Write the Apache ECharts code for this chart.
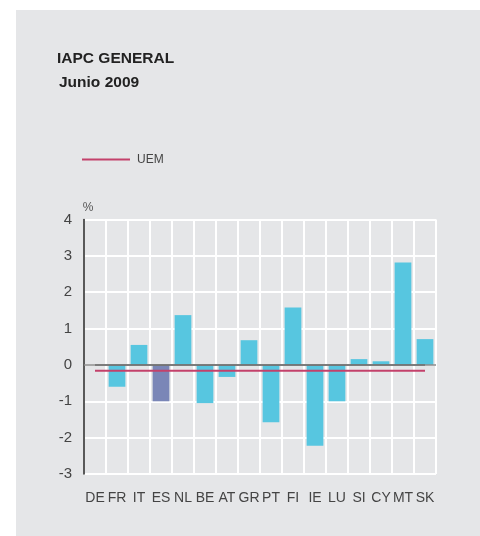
<!DOCTYPE html>
<html>
<head>
<meta charset="utf-8">
<script src="https://cdn.jsdelivr.net/npm/echarts@6/dist/echarts.min.js"></script>
<style>
  html, body { margin: 0; padding: 0; background: #fff; }
  .panel { position: absolute; left: 16px; top: 10px; width: 464px; height: 526px; background: #e5e6e8; }
  #chart { position: absolute; left: 0; top: 0; width: 480px; height: 536px; }
</style>
</head>
<body>
<div class="panel"></div>
<div id="chart"></div>
<script>
// 国别（欧元区成员）
const paises = ['DE', 'FR', 'IT', 'ES', 'NL', 'BE', 'AT', 'GR', 'PT', 'FI', 'IE', 'LU', 'SI', 'CY', 'MT', 'SK']
// IAPC junio 2009, %
const iapc = [0, -0.6, 0.55, -1.0, 1.37, -1.05, -0.33, 0.68, -1.58, 1.58, -2.22, -1.0, 0.16, 0.1, 2.82, 0.71]
// media UEM
const uem = [-0.16, -0.16, -0.16, -0.16, -0.16, -0.16, -0.16, -0.16, -0.16, -0.16, -0.16, -0.16, -0.16, -0.16, -0.16, -0.16]
// línea de cero
const cero = [0, 0, 0, 0, 0, 0, 0, 0, 0, 0, 0, 0, 0, 0, 0, 0]
const yTicks = [-3, -2, -1, 0, 1, 2, 3, 4]

const font = '"Liberation Sans", Arial, sans-serif'
const chart = echarts.init(document.getElementById('chart'))

const option = {
  backgroundColor: 'transparent',
  animation: false,
  title: [
    {
      text: 'IAPC GENERAL',
      left: 57,
      top: 51,
      padding: 0,
      textStyle: { fontFamily: font, fontSize: 15.5, fontWeight: 'bold', color: '#222' },
    },
    {
      text: 'Junio 2009',
      left: 59,
      top: 75,
      padding: 0,
      textStyle: { fontFamily: font, fontSize: 15.5, fontWeight: 'bold', color: '#222' },
    },
  ],
  legend: {
    data: ['UEM'],
    left: 82,
    top: 153.5,
    padding: 0,
    icon: 'rect',
    itemWidth: 48,
    itemHeight: 2,
    itemGap: 7,
    textStyle: { fontFamily: font, fontSize: 12, color: '#444', padding: [0, 0, 0, 2] },
  },
  grid: { left: 84, right: 44, top: 219.5, bottom: 62, containLabel: false },
  xAxis: {
    type: 'category',
    data: paises,
    boundaryGap: true,
    axisLine: { show: false, onZero: false },
    axisTick: { show: false },
    axisLabel: { interval: 0, margin: 17, fontFamily: font, fontSize: 14, color: '#444' },
    splitLine: { show: true, interval: 0, lineStyle: { color: '#fff', width: 2 } },
  },
  yAxis: {
    type: 'value',
    min: yTicks[0],
    max: yTicks[yTicks.length - 1],
    interval: 1,
    name: '%',
    nameLocation: 'end',
    nameGap: 6,
    nameTextStyle: { fontFamily: font, fontSize: 12, color: '#555', padding: [0, 0, 0, 8] },
    axisLine: { show: true, onZero: false, lineStyle: { color: '#222', width: 1.5 } },
    axisTick: { show: false },
    axisLabel: { margin: 12, fontFamily: font, fontSize: 15, color: '#444' },
    splitLine: { show: true, lineStyle: { color: '#fff', width: 2 } },
  },
  series: [
    {
      name: 'IAPC',
      type: 'bar',
      data: iapc,
      barCategoryGap: '24%',
      itemStyle: {
        color: (p) => (paises[p.dataIndex] === 'ES' ? '#7a86b7' : '#57c6e0'),
      },
      markLine: {
        silent: true,
        symbol: 'none',
        label: { show: false },
        lineStyle: { color: '#888', width: 1.5, type: 'solid' },
        data: [{ yAxis: 0 }],
      },
    },
    {
      name: 'cero',
      type: 'line',
      data: cero,
      symbol: 'none',
      lineStyle: { color: '#222', width: 1.5 },
      z: 3,
    },
    {
      name: 'UEM',
      type: 'line',
      data: uem,
      symbol: 'none',
      color: '#c3416b',
      lineStyle: { color: '#c3416b', width: 2 },
      z: 4,
    },
  ],
}

chart.setOption(option)
</script>
</body>
</html>
